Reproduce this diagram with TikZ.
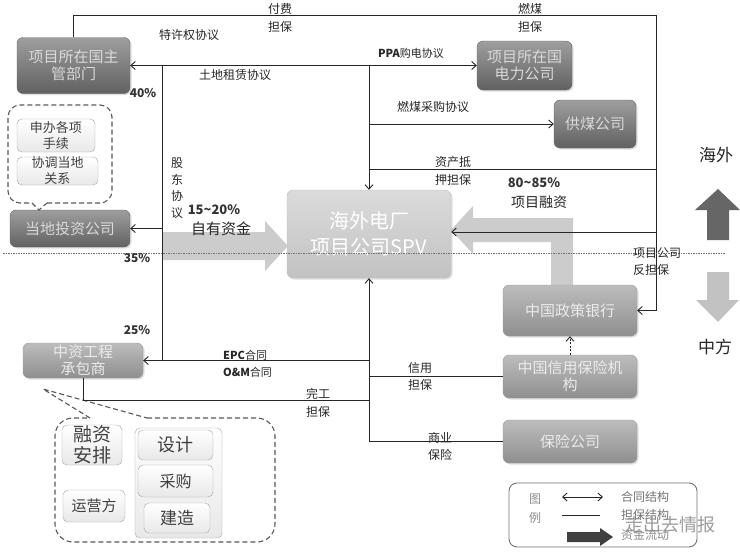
\documentclass[tikz,border=0pt]{standalone}
\usepackage{fontspec}
\setmainfont{Noto Sans CJK SC}
\usetikzlibrary{arrows.meta,shadows}
\begin{document}
\begin{tikzpicture}[x=1pt,y=-1pt,
  >={Straight Barb[length=4.5pt,width=8pt]},
  conn/.style={draw=black!85, line width=0.9pt},
  lbl/.style={font=\fontsize{12}{14}\selectfont, text=black!85, inner sep=0},
  pct/.style={font=\fontsize{12}{14}\selectfont\bfseries, text=black!80, inner sep=0},
  darkbox/.style={draw=black!60, rounded corners=6pt, top color=black!38, bottom color=black!62, text=black!15, font=\fontsize{15}{17}\selectfont, align=center, inner sep=0, drop shadow={opacity=0.25, shadow xshift=1.5pt, shadow yshift=-1.5pt}},
  midbox/.style={darkbox, draw=black!40, top color=black!26, bottom color=black!44, text=black!8},
  lightbox/.style={darkbox, draw=black!25, top color=black!14, bottom color=black!24, text=white},
  smallbox/.style={draw=black!35, rounded corners=5pt, top color=white, bottom color=black!9, text=black!75, align=center, inner sep=0, font=\fontsize{13}{16}\selectfont},
  callout/.style={draw=black!65, dash pattern=on 5pt off 3pt, line width=1.1pt},
  fund/.style={fill=black!20},
  sep/.style={draw=black!55, line width=0.6pt, dash pattern=on 1.5pt off 1pt}
]
\useasboundingbox (0,0) rectangle (740,557);
\fill[white] (0,0) rectangle (740,557);

% fund flow arrows (background)
\fill[fund] (163,232) -- (265,232) -- (265,221) -- (288,246) -- (265,271) -- (265,260) -- (163,260) -- cycle;
\fill[fund] (573,285) -- (573,218) -- (473,218) -- (473,206) -- (451,230) -- (473,254) -- (473,242) -- (551,242) -- (551,285) -- cycle;

% up / down arrows
\fill[black!60] (707,240) -- (707,210) -- (695,210) -- (718,189) -- (740,210) -- (729,210) -- (729,240) -- cycle;
\fill[black!24] (707,272) -- (707,300) -- (696,300) -- (718,322) -- (739,300) -- (729,300) -- (729,272) -- cycle;

% main boxes
\node[darkbox, minimum width=113pt, minimum height=56pt] (gov) at (73.5,65.5) {项目所在国主\\管部门};
\node[darkbox, minimum width=95pt, minimum height=49pt] (power) at (524.5,65.5) {项目所在国\\电力公司};
\node[darkbox, minimum width=82pt, minimum height=48pt] (coal) at (595,124) {供煤公司};
\node[darkbox, minimum width=120pt, minimum height=37pt] (inv) at (70,228.5) {当地投资公司};
\node[lightbox, minimum width=164pt, minimum height=88pt, font=\fontsize{20}{26}\selectfont] (spv) at (369,234) {海外电厂\\项目公司SPV};
\node[midbox, minimum width=134pt, minimum height=51pt] (bank) at (570,310.5) {中国政策银行};
\node[midbox, minimum width=134pt, minimum height=43pt] (credit) at (570,376.5) {中国信用保险机\\构};
\node[midbox, minimum width=134pt, minimum height=43pt] (ins) at (570,441.5) {保险公司};
\node[midbox, minimum width=120pt, minimum height=35pt] (epc) at (83,360.5) {中资工程\\承包商};

% top callout
\node[smallbox, minimum width=78pt, minimum height=33pt] (apply) at (56,135.5) {申办各项\\手续};
\node[smallbox, minimum width=81pt, minimum height=28pt] (coord) at (57.5,171) {协调当地\\关系};
\draw[callout, rounded corners=12pt] (47,203) -- (112,203) -- (112,105) -- (8,105) -- (8,203) -- (32,203);
\draw[callout] (32,203) -- (39,210) -- (47,203);

% bottom callout
\draw[callout, rounded corners=18pt] (147,418) -- (275,418) -- (275,542) -- (55,542) -- (55,418) -- (90,418);
\draw[callout] (90,418) -- (43,389) -- (147,418);
\node[smallbox, font=\fontsize{19}{21}\selectfont, minimum width=60pt, minimum height=40pt] (fin) at (92,445) {融资\\安排};
\node[smallbox, font=\fontsize{15}{17}\selectfont, minimum width=62pt, minimum height=32pt] (op) at (94,506) {运营方};
\node[smallbox, minimum width=87pt, minimum height=110pt] (grp) at (178.5,483) {};
\node[smallbox, font=\fontsize{18}{20}\selectfont, minimum width=75pt, minimum height=30pt] (design) at (175.5,445) {设计};
\node[smallbox, font=\fontsize{16}{18}\selectfont, minimum width=75pt, minimum height=32pt] (buy) at (175.5,481) {采购};
\node[smallbox, font=\fontsize{17}{19}\selectfont, minimum width=66pt, minimum height=30pt] (build) at (177,518) {建造};

% connectors
\coordinate (tr) at (656,15);
\coordinate (ra) at (656,169);
\coordinate (rb) at (656,232);
\coordinate (lv) at (162,0);
\coordinate (cg) at (369,400);
\draw[conn,->] (gov.north) |- (tr) |- (bank.east);
\draw[conn,<->] (gov.east) -- (power.west);
\draw[conn,->] (spv.north |- gov.east) -- (spv.north);
\draw[conn,->] (spv.north |- coal.west) -- (coal.west);
\draw[conn] (spv.north |- ra) -- (ra);
\draw[conn,->] (rb) -- (spv.east |- rb);
\draw[conn] (lv |- gov.east) -- (lv |- epc.east);
\draw[conn,->] (lv |- inv.east) -- (inv.east);
\draw[conn,<-] (epc.east) -- (spv.south |- epc.east);
\draw[conn,<-] (spv.south) -- (spv.south |- ins.west);
\draw[conn] (spv.south |- credit.west) -- (credit.west);
\draw[conn] (spv.south |- ins.west) -- (ins.west);
\draw[conn] (epc.south) |- (cg);
\draw[conn,->, dash pattern=on 2pt off 1.5pt] (credit.north) -- (bank.south);

% separator
\draw[sep] (3,253) -- (725,253);

% labels
\node[lbl] (t1) at (280,9) {付费};
\node[lbl] (t2) at (280,27) {担保};
\node[lbl] (t3) at (530,9) {燃煤};
\node[lbl] (t4) at (530,27) {担保};
\node[lbl] (t5) at (189,35) {特许权协议};
\node[lbl] (t6) at (235,75) {土地租赁协议};
\node[lbl, font=\fontsize{11}{13}\selectfont] (t7) at (411,53) {\textbf{PPA}购电协议};
\node[lbl] (t8) at (433,107) {燃煤采购协议};
\node[pct] (p40) at (143,93) {40\%};
\node[pct] (p35) at (137,258) {35\%};
\node[pct] (p25) at (137,330) {25\%};
\node[lbl, align=center, font=\fontsize{12}{16.5}\selectfont] (t9) at (177,188) {股\\东\\协\\议};
\node[pct, font=\fontsize{13}{15}\selectfont\bfseries] (t10) at (214,210) {15\char`~20\%};
\node[lbl, font=\fontsize{15}{17}\selectfont] (t11) at (221,229) {自有资金};
\node[lbl] (t12) at (453,162) {资产抵};
\node[lbl] (t13) at (453,180) {押担保};
\node[pct, font=\fontsize{13}{15}\selectfont\bfseries] (t14) at (534,183) {80\char`~85\%};
\node[lbl, font=\fontsize{14}{16}\selectfont] (t15) at (539,202) {项目融资};
\node[lbl, anchor=west] (t16) at (633,253) {项目公司};
\node[lbl, anchor=west] (t17) at (633,270) {反担保};
\node[lbl, anchor=west, font=\fontsize{11}{13}\selectfont] (t18) at (223,355) {\textbf{EPC}合同};
\node[lbl, anchor=west, font=\fontsize{11}{13}\selectfont] (t19) at (223,372) {\textbf{O\&M}合同};
\node[lbl] (t20) at (318,394) {完工};
\node[lbl] (t21) at (318,412) {担保};
\node[lbl] (t22) at (420,368) {信用};
\node[lbl] (t23) at (420,385) {担保};
\node[lbl] (t24) at (440,438) {商业};
\node[lbl] (t25) at (440,455) {保险};
\node[lbl, font=\fontsize{17}{19}\selectfont] (t26) at (716,155) {海外};
\node[lbl, font=\fontsize{17}{19}\selectfont] (t27) at (715,347) {中方};

% legend
\node[draw=black!55, rounded corners=8pt, line width=0.9pt, minimum width=188pt, minimum height=64pt] (leg) at (603,515) {};
\node[lbl, text=black!45] (lg1) at (535,499) {图};
\node[lbl, text=black!45] (lg2) at (535,518) {例};
\coordinate (la1) at (562,497);
\coordinate (la2) at (603,497);
\coordinate (lb1) at (562,515);
\coordinate (lb2) at (600,515);
\draw[conn,<->] (la1) -- (la2);
\draw[conn] (lb1) -- (lb2);
\fill[black!75] (567,532) -- (600,532) -- (600,528) -- (613,537) -- (600,546) -- (600,542) -- (567,542) -- cycle;
\node[lbl, text=black!55] (lg3) at (645,497) {合同结构};
\node[lbl, text=black!55] (lg4) at (645,515) {担保结构};
\node[lbl, text=black!45] (lg5) at (645,535) {资金流动};
\node[lbl, text=black!45, font=\fontsize{18}{20}\selectfont, opacity=0.85] (wm) at (670,525) {走出去情报};
\end{tikzpicture}
\end{document}
